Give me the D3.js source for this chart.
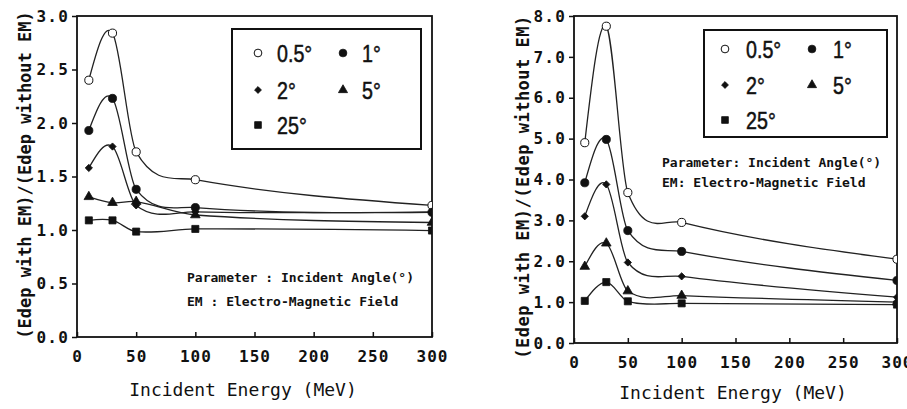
<!DOCTYPE html>
<html>
<head>
<meta charset="utf-8">
<script src="https://cdn.jsdelivr.net/npm/d3@7"></script>
<style>
  html, body { margin: 0; padding: 0; background: #fff; }
  svg { display: block; }
  .tick-label { font-family: "DejaVu Sans Mono", monospace; font-weight: bold; font-size: 16px; fill: #111; }
  .axis-title { font-family: "DejaVu Sans Mono", monospace; fill: #111; }
  .note { font-family: "DejaVu Sans Mono", monospace; font-weight: bold; font-size: 13px; fill: #111; }
  .legend-text { font-family: "Liberation Sans", Arial, sans-serif; font-size: 24px; fill: #111; stroke: #111; stroke-width: 0.5px; }
</style>
</head>
<body>
<svg id="chart" width="907" height="409"></svg>
<script>
// Incident energies (MeV) shared by both panels
const energies = [10, 30, 50, 100, 300];

// Incident angles (legend labels)
const angles = ["0.5°", "1°", "2°", "5°", "25°"];

// Left panel: energy-deposit ratio with / without EM field
const leftA05 = [2.40, 2.84, 1.73, 1.47, 1.23];
const leftA1  = [1.93, 2.23, 1.38, 1.21, 1.165];
const leftA2  = [1.58, 1.78, 1.23, 1.17, 1.17];
const leftA5  = [1.31, 1.255, 1.265, 1.14, 1.07];
const leftA25 = [1.09, 1.09, 0.985, 1.01, 0.995];

// Right panel
const rightA05 = [4.90, 7.75, 3.68, 2.95, 2.05];
const rightA1  = [3.92, 4.98, 2.75, 2.24, 1.53];
const rightA2  = [3.10, 3.88, 1.97, 1.63, 1.12];
const rightA5  = [1.87, 2.44, 1.27, 1.16, 1.00];
const rightA25 = [1.03, 1.49, 1.02, 0.97, 0.94];

// Axis ticks
const xTicks = [0, 50, 100, 150, 200, 250, 300];
const leftYTicks = [0, 0.5, 1.0, 1.5, 2.0, 2.5, 3.0];
const rightYTicks = [0, 1, 2, 3, 4, 5, 6, 7, 8];

const yTitle = "(Edep with EM)/(Edep without EM)";
const xTitle = "Incident Energy (MeV)";

const svg = d3.select("#chart");

// Cubic Hermite spline along x: interior tangents from the neighbouring
// points, natural (zero-curvature) end conditions. Emitted as Béziers.
function curveHermiteX(context) {
  let xs, ys;
  return {
    areaStart() {}, areaEnd() {},
    lineStart() { xs = []; ys = []; },
    point(x, y) { xs.push(+x); ys.push(+y); },
    lineEnd() {
      const n = xs.length;
      if (!n) return;
      context.moveTo(xs[0], ys[0]);
      if (n === 1) return;
      const m = new Array(n);
      for (let i = 1; i < n - 1; i++) {
        m[i] = (ys[i + 1] - ys[i - 1]) / (xs[i + 1] - xs[i - 1]);
      }
      const d0 = (ys[1] - ys[0]) / (xs[1] - xs[0]);
      const dn = (ys[n - 1] - ys[n - 2]) / (xs[n - 1] - xs[n - 2]);
      if (n === 2) { m[0] = d0; m[1] = d0; }
      else {
        m[0] = (3 * d0 - m[1]) / 2;
        m[n - 1] = (3 * dn - m[n - 2]) / 2;
      }
      for (let i = 0; i < n - 1; i++) {
        const h = (xs[i + 1] - xs[i]) / 3;
        context.bezierCurveTo(
          xs[i] + h, ys[i] + m[i] * h,
          xs[i + 1] - h, ys[i + 1] - m[i + 1] * h,
          xs[i + 1], ys[i + 1]
        );
      }
    }
  };
}

// Marker style per angle (diamond = square turned 45°)
const markerStyles = [
  { type: d3.symbolCircle, size: 52, fill: "#fff", rot: 0 },
  { type: d3.symbolCircle, size: 52, fill: "#111", rot: 0 },
  { type: d3.symbolSquare, size: 26, fill: "#111", rot: 45 },
  { type: d3.symbolTriangle, size: 40, fill: "#111", rot: 0 },
  { type: d3.symbolSquare, size: 50, fill: "#111", rot: 0 }
];

function drawPanel(cfg) {
  const g = svg.append("g");
  const x = d3.scaleLinear().domain([0, 300]).range([cfg.x0, cfg.x1]);
  const y = d3.scaleLinear().domain([0, cfg.yMax]).range([cfg.y0, cfg.y1]);

  const clipId = "clip-" + cfg.id;
  svg.append("clipPath").attr("id", clipId)
    .append("rect")
    .attr("x", cfg.x0).attr("y", cfg.y1)
    .attr("width", cfg.x1 - cfg.x0).attr("height", cfg.y0 - cfg.y1);

  // Y axis (ticks outward)
  const yAxis = d3.axisLeft(y).tickValues(cfg.yTicks).tickSize(5)
    .tickFormat(d3.format(".1f"));
  const ya = g.append("g").attr("transform", `translate(${cfg.x0},0)`).call(yAxis);
  ya.select(".domain").remove();
  ya.selectAll(".tick line").attr("stroke", "#111").attr("stroke-width", 1.5);
  ya.selectAll(".tick text").attr("class", "tick-label").attr("x", -8)
    .attr("font-family", null).attr("font-size", null).attr("fill", null)
    .attr("letter-spacing", "1.2px");

  // X axis (ticks inward)
  const xAxis = d3.axisBottom(x).tickValues(xTicks).tickSize(-5).tickPadding(14)
    .tickFormat(d3.format("d"));
  const xa = g.append("g").attr("transform", `translate(0,${cfg.y0})`).call(xAxis);
  xa.select(".domain").remove();
  xa.selectAll(".tick line").attr("stroke", "#111").attr("stroke-width", 1.5);
  xa.selectAll(".tick text").attr("class", "tick-label")
    .attr("font-family", null).attr("font-size", null).attr("fill", null)
    .attr("letter-spacing", "1px");

  // Plot frame
  g.append("rect")
    .attr("x", cfg.x0).attr("y", cfg.y1)
    .attr("width", cfg.x1 - cfg.x0).attr("height", cfg.y0 - cfg.y1)
    .attr("fill", "none").attr("stroke", "#111").attr("stroke-width", 1.8);

  // Smoothed series lines
  const line = d3.line()
    .x((d, i) => x(energies[i]))
    .y(d => y(d))
    .curve(curveHermiteX);

  const plot = g.append("g").attr("clip-path", `url(#${clipId})`);
  cfg.series.forEach((vals) => {
    plot.append("path")
      .attr("d", line(vals))
      .attr("fill", "none")
      .attr("stroke", "#222")
      .attr("stroke-width", 1.3);
  });
  cfg.series.forEach((vals, si) => {
    const st = markerStyles[si];
    plot.selectAll(null).data(vals).enter().append("path")
      .attr("transform", (d, i) => `translate(${x(energies[i])},${y(d)}) rotate(${st.rot})`)
      .attr("d", d3.symbol().type(st.type).size(st.size))
      .attr("fill", st.fill)
      .attr("stroke", "#111")
      .attr("stroke-width", st.fill === "#fff" ? 1 : 0.8);
  });

  // Legend box
  const L = cfg.legend;
  g.append("rect")
    .attr("x", L.x).attr("y", L.y).attr("width", L.w).attr("height", L.h)
    .attr("fill", "#fff").attr("stroke", "#111").attr("stroke-width", 2);
  const cols = [0, 1, 0, 1, 0];
  const rows = [0, 0, 1, 1, 2];
  angles.forEach((lab, i) => {
    const mx = L.mx[cols[i]], my = L.my[rows[i]];
    const st = markerStyles[i];
    g.append("path")
      .attr("transform", `translate(${mx},${my}) rotate(${st.rot})`)
      .attr("d", d3.symbol().type(st.type).size(st.size * 0.9))
      .attr("fill", st.fill).attr("stroke", "#111")
      .attr("stroke-width", st.fill === "#fff" ? 1 : 0.8);
    g.append("text")
      .attr("class", "legend-text")
      .attr("transform", `translate(${mx + L.tdx},${my + 8.5}) scale(0.82,1)`)
      .text(lab);
  });

  // Parameter note
  cfg.notes.forEach((t, i) => {
    g.append("text").attr("class", "note")
      .attr("x", cfg.noteX).attr("y", cfg.noteY + i * cfg.noteDy)
      .text(t);
  });

  // Axis titles
  g.append("text").attr("class", "axis-title")
    .attr("x", cfg.xTitleX).attr("y", cfg.xTitleY)
    .attr("text-anchor", "middle")
    .attr("font-size", 18)
    .attr("font-weight", 500)
    .text(xTitle);
  g.append("text").attr("class", "axis-title")
    .attr("transform", `translate(${cfg.yTitleX},${cfg.yTitleY}) rotate(-90)`)
    .attr("text-anchor", "middle")
    .attr("font-size", 17)
    .attr("font-weight", "bold")
    .attr("letter-spacing", cfg.yTitleLS)
    .text(yTitle);
}

drawPanel({
  id: "left",
  x0: 77, x1: 432, y0: 337, y1: 16,
  yMax: 3.0, yTicks: leftYTicks,
  series: [leftA05, leftA1, leftA2, leftA5, leftA25],
  legend: { x: 232, y: 29, w: 189, h: 120, mx: [258, 343], my: [53, 90, 125], tdx: 19 },
  notes: ["Parameter : Incident Angle(°)", "EM : Electro-Magnetic Field"],
  noteX: 187, noteY: 282, noteDy: 24,
  xTitleX: 243, xTitleY: 396,
  yTitleX: 31, yTitleY: 175, yTitleLS: "0px"
});

drawPanel({
  id: "right",
  x0: 574, x1: 897, y0: 343, y1: 16,
  yMax: 8.0, yTicks: rightYTicks,
  series: [rightA05, rightA1, rightA2, rightA5, rightA25],
  legend: { x: 704, y: 30, w: 183, h: 107, mx: [725, 812], my: [49, 85, 120], tdx: 21 },
  notes: ["Parameter: Incident Angle(°)", "EM: Electro-Magnetic Field"],
  noteX: 662, noteY: 167, noteDy: 20,
  xTitleX: 733, xTitleY: 399,
  yTitleX: 529, yTitleY: 187, yTitleLS: "0.5px"
});
</script>
</body>
</html>
